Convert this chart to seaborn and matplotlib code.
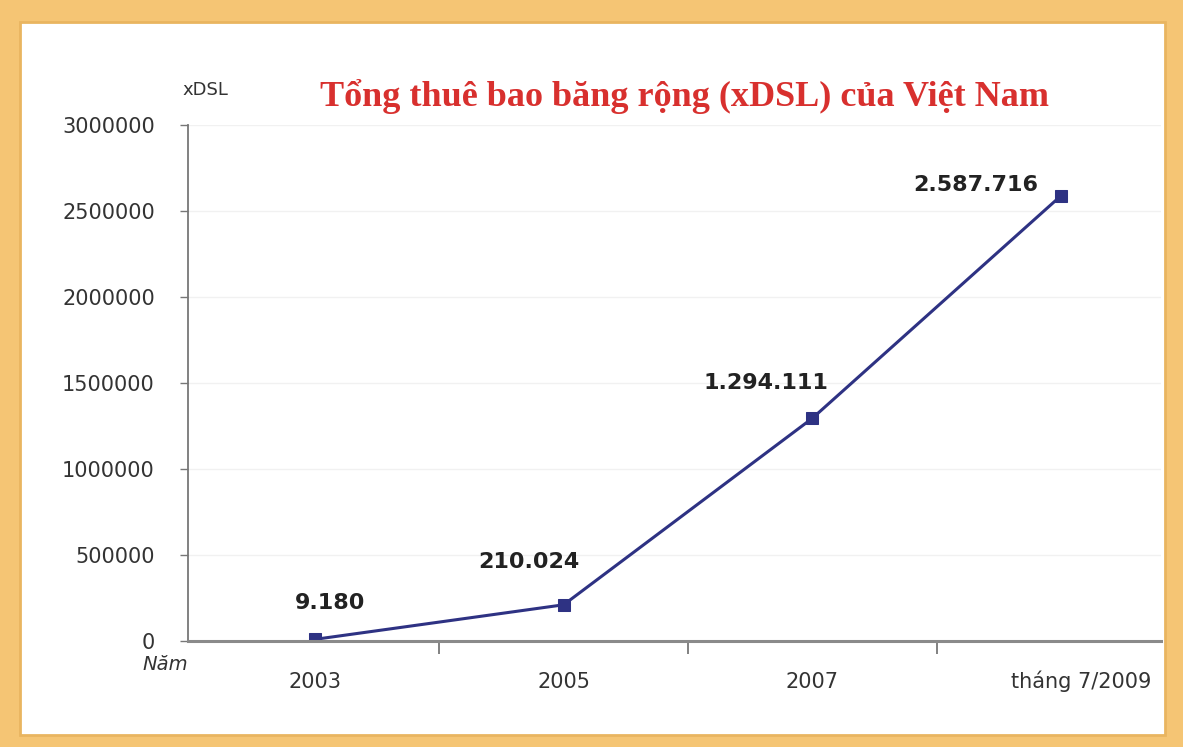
import matplotlib
matplotlib.use('Agg')
import matplotlib.pyplot as plt
import matplotlib.transforms as mtransforms
from matplotlib.patches import Rectangle
from matplotlib.ticker import FixedLocator
import numpy as np
import pandas as pd
import seaborn as sns

# data
periods = ['2003', '2005', '2007', 'tháng 7/2009']
subscribers = [9180, 210024, 1294111, 2587716]
value_labels = ['9.180', '210.024', '1.294.111', '2.587.716']
label_offsets = [(15, 36), (-35, 43), (-46, 35), (-85, 11)]

sns.set_theme(style='white')
plt.rcParams['font.family'] = ['DejaVu Sans']

df = pd.DataFrame({'pos': np.arange(len(periods)), 'value': subscribers})

fig = plt.figure(figsize=(11.83, 7.47), dpi=100)
fig.patch.set_facecolor('#F5C574')
fig.patches.append(Rectangle((0.017, 0.016), 0.968, 0.954, transform=fig.transFigure,
                             facecolor='white', edgecolor='#E9B560', linewidth=2, zorder=-1))

ax = fig.add_axes([0.159, 0.142, 0.822, 0.691])
ax.set_zorder(2)
ax.set_facecolor('none')

line_color = '#2E3283'
sns.lineplot(data=df, x='pos', y='value', ax=ax, color=line_color, linewidth=2.2,
             marker='s', markersize=9, markeredgecolor=line_color, markerfacecolor=line_color)

for i, (v, lab, off) in enumerate(zip(subscribers, value_labels, label_offsets)):
    ax.annotate(lab, (i, v), xytext=off, textcoords='offset pixels', ha='center', va='center',
                fontsize=16, fontweight='bold', color='#222222')

ax.set_xlim(-0.51, 3.4)
ax.set_ylim(0, 3000000)
ax.set_yticks(np.arange(0, 3000001, 500000))
ax.set_yticklabels([str(int(t)) for t in np.arange(0, 3000001, 500000)], fontsize=15, color='#333333')
ax.set_xticks(np.arange(len(periods)))
ax.set_xticklabels(periods, fontsize=15, color='#333333')
ax.xaxis.set_minor_locator(FixedLocator([0.5, 1.5, 2.5]))
ax.tick_params(axis='x', which='major', length=0, pad=34)
ax.tick_params(axis='x', which='minor', length=9, width=1.3, color='#777777', direction='out', bottom=True)
ax.tick_params(axis='y', which='major', length=6, width=1, color='#777777', direction='out', left=True, pad=18)
for lab in ax.get_xticklabels():
    lab.set_va('baseline')
# last label sits a bit to the right of its point in the original
last = ax.get_xticklabels()[-1]
last.set_transform(last.get_transform() + mtransforms.ScaledTranslation(0.2, 0, fig.dpi_scale_trans))

ax.grid(axis='y', color='#F1F1F1', linewidth=1)
ax.set_xlabel('')
ax.set_ylabel('')
for side in ['top', 'right']:
    ax.spines[side].set_visible(False)
ax.spines['left'].set_color('#777777')
ax.spines['left'].set_linewidth(1.3)
ax.spines['bottom'].set_color('#8A8A8A')
ax.spines['bottom'].set_linewidth(2.2)

fig.text(685 / 1183, 1 - 97 / 747, 'Tổng thuê bao băng rộng (xDSL) của Việt Nam', ha='center', va='center',
         fontsize=26, fontweight='bold', color='#D8302E', family=['Liberation Serif', 'DejaVu Serif'])
fig.text(205 / 1183, 1 - 90 / 747, 'xDSL', ha='center', va='center', fontsize=13, color='#333333')
fig.text(165 / 1183, 1 - 664 / 747, 'Năm', ha='center', va='center', fontsize=14, style='italic', color='#333333')

fig.savefig('out.png', dpi=100, facecolor=fig.get_facecolor())
